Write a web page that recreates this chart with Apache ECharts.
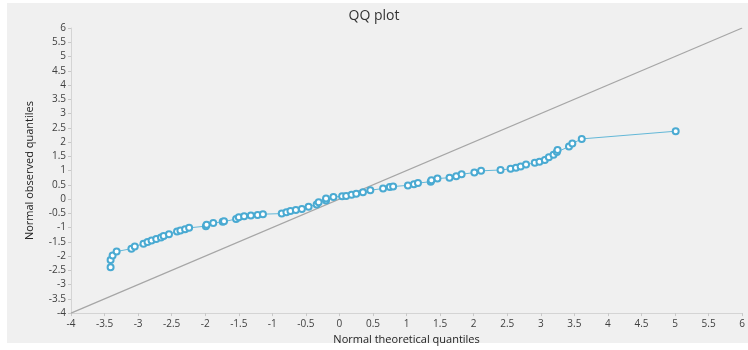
<!DOCTYPE html>
<html>
<head>
<meta charset="utf-8">
<script src="https://cdn.jsdelivr.net/npm/echarts@6/dist/echarts.min.js"></script>
<style>
html,body{margin:0;padding:0;background:#fff;}
#c{width:748px;height:350px;}
</style>
</head>
<body>
<div id="c"></div>
<script>
const theoretical = [-3.41,-3.41,-3.38,-3.32,-3.10,-3.05,-2.92,-2.86,-2.80,-2.73,-2.66,-2.62,-2.54,-2.42,-2.37,-2.30,-2.24,-1.99,-1.98,-1.88,-1.74,-1.72,-1.54,-1.50,-1.42,-1.32,-1.22,-1.14,-0.86,-0.79,-0.73,-0.65,-0.56,-0.46,-0.34,-0.31,-0.20,-0.20,-0.09,0.04,0.10,0.18,0.25,0.35,0.46,0.65,0.75,0.80,1.02,1.11,1.17,1.36,1.37,1.46,1.64,1.74,1.82,2.01,2.11,2.40,2.55,2.63,2.70,2.78,2.91,2.98,3.06,3.12,3.19,3.24,3.25,3.42,3.47,3.61,5.01];
const observed = [-2.39,-2.14,-1.98,-1.84,-1.74,-1.66,-1.57,-1.51,-1.45,-1.40,-1.35,-1.30,-1.23,-1.14,-1.10,-1.06,-1.01,-0.95,-0.90,-0.84,-0.80,-0.78,-0.70,-0.64,-0.60,-0.58,-0.56,-0.53,-0.51,-0.46,-0.42,-0.38,-0.35,-0.27,-0.19,-0.11,-0.05,0.02,0.07,0.10,0.11,0.15,0.19,0.24,0.31,0.37,0.42,0.44,0.48,0.52,0.56,0.61,0.66,0.72,0.75,0.80,0.87,0.93,0.99,1.02,1.06,1.10,1.14,1.21,1.27,1.31,1.37,1.47,1.55,1.65,1.72,1.84,1.95,2.11,2.38];
const refLineX = [-4, 6];
const refLineY = [-4, 6];
const axisMin = -4, axisMax = 6, axisStep = 0.5;

const qqData = theoretical.map((x, i) => [x, observed[i]]);
const refData = refLineX.map((x, i) => [x, refLineY[i]]);

const chart = echarts.init(document.getElementById('c'), null, {renderer: 'canvas'});
const axisCommon = {
  type: 'value', min: axisMin, max: axisMax, interval: axisStep,
  splitLine: {show: false},
  axisLine: {show: true, onZero: false, lineStyle: {color: '#d4d4d4', width: 1}},
  axisTick: {show: true, length: 3, lineStyle: {color: '#c8c8c8'}},
  axisLabel: {color: '#404040', fontSize: 10, fontFamily: 'Open Sans'},
  nameLocation: 'middle',
  nameTextStyle: {color: '#222', fontSize: 11, fontFamily: 'Liberation Sans Narrow, Open Sans'}
};
chart.setOption({
  backgroundColor: '#ffffff',
  animation: false,
  graphic: [{type: 'rect', z: -10, silent: true, shape: {x: 7, y: 3, width: 741, height: 340}, style: {fill: '#f0f0f0'}}],
  title: {text: 'QQ plot', left: 'center', top: 4, textStyle: {color: '#333', fontSize: 14, fontWeight: 'normal', fontFamily: 'Open Sans'}},
  grid: {left: 71, right: 3, top: 28, bottom: 35},
  xAxis: Object.assign({}, axisCommon, {name: 'Normal theoretical quantiles', nameGap: 15, axisLabel: Object.assign({}, axisCommon.axisLabel, {margin: 6})}),
  yAxis: Object.assign({}, axisCommon, {name: 'Normal observed quantiles', nameGap: 36, axisLabel: Object.assign({}, axisCommon.axisLabel, {margin: 5})}),
  series: [
    {type: 'line', data: refData, symbol: 'none', lineStyle: {color: '#a6a6a6', width: 1.2}, z: 1},
    {type: 'line', data: qqData, symbol: 'emptyCircle', symbolSize: 6,
     lineStyle: {color: '#63b8d8', width: 1},
     itemStyle: {color: '#4aaad2', borderColor: '#4aaad2', borderWidth: 1.6}, z: 2}
  ]
});
</script>
</body>
</html>
